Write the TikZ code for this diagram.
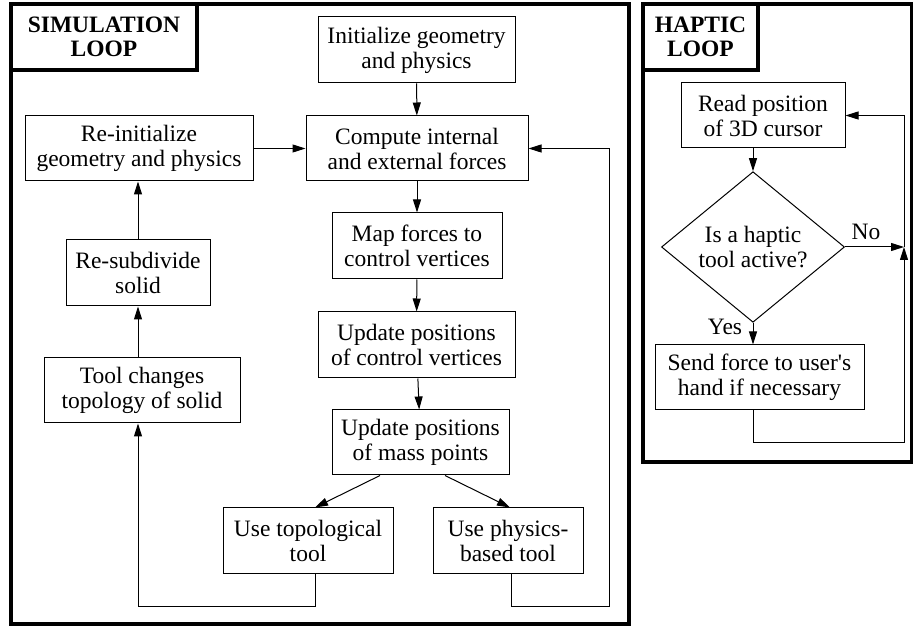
\documentclass[tikz,border=0pt]{standalone}
\usepackage{fontspec}
\setmainfont{Liberation Serif}
\usetikzlibrary{shapes.geometric,arrows.meta}
\begin{document}
\begin{tikzpicture}[x=1pt,y=-1pt,
  box/.style={draw,line width=1pt,align=center,inner sep=0pt,font=\fontsize{23.5}{25}\selectfont},
  arr/.style={-{Triangle[length=13pt,width=8pt]},line width=1pt},
  frame/.style={draw,line width=3.2pt},
  titlebox/.style={draw,line width=3.2pt,align=center,inner sep=0pt,font=\bfseries\fontsize{23.5}{24}\selectfont},
  lbl/.style={font=\fontsize{23.5}{25}\selectfont,inner sep=0pt}]
\useasboundingbox (0,0) rectangle (914,628);
% frames
\draw[frame] (11,4) rectangle (629,624);
\draw[frame] (643,4) rectangle (911.5,462);
\node[titlebox,minimum width=186pt,minimum height=66pt] (simtitle) at (104,37) {SIMULATION\\LOOP};
\node[titlebox,minimum width=115pt,minimum height=66pt] (haptitle) at (700.5,37) {HAPTIC\\LOOP};
% simulation nodes
\node[box,minimum width=197pt,minimum height=66pt] (init) at (416.5,50) {Initialize geometry\\and physics};
\node[box,minimum width=222pt,minimum height=65pt] (comp) at (417,148.5) {Compute internal\\and external forces};
\node[box,minimum width=228pt,minimum height=65pt] (reinit) at (139,148.5) {Re-initialize\\geometry and physics};
\node[box,minimum width=144pt,minimum height=66pt] (resub) at (138,273) {Re-subdivide\\solid};
\node[box,minimum width=196pt,minimum height=65pt] (topch) at (142,390.5) {Tool changes\\topology of solid};
\node[box,minimum width=170pt,minimum height=66pt] (map) at (417,246) {Map forces to\\control vertices};
\node[box,minimum width=197pt,minimum height=66pt] (updc) at (416.5,345) {Update positions\\of control vertices};
\node[box,minimum width=177pt,minimum height=65pt] (updm) at (420.5,442.5) {Update positions\\of mass points};
\node[box,minimum width=170pt,minimum height=65pt] (topo) at (308,540.5) {Use topological\\tool};
\node[box,minimum width=150pt,minimum height=65pt] (phys) at (508,540.5) {Use physics-\\based tool};
% simulation connectors
\draw[arr] (init) -- (comp);
\draw[arr] (comp) -- (map);
\draw[arr] (map) -- (updc);
\draw[arr] (updc) -- (updm);
\draw[arr] (reinit) -- (comp);
\draw[arr] (resub) -- (resub|-reinit.south);
\draw[arr] (topch.north-|resub) -- (resub);
\draw[arr] (updm.south-|380,0) -- (topo.north-|315,0);
\draw[arr] (updm.south-|445,0) -- (phys.north-|510,0);
\coordinate (tb) at (315,606);
\coordinate (tl) at (138,606);
\draw[arr] (topo.south-|tb) -- (tb) -- (tl) -- (tl|-topch.south);
\coordinate (pb) at (511,606);
\coordinate (pr) at (609,606);
\draw[arr] (phys.south-|pb) -- (pb) -- (pr) -- (pr|-comp.east) -- (comp.east);
% haptic nodes
\node[box,minimum width=164pt,minimum height=65pt] (read) at (763,115.5) {Read position\\of 3D cursor};
\node[box,diamond,minimum width=183pt,minimum height=130pt] (dec) at (753,247) {Is a haptic\\tool active?};
\node[box,minimum width=209pt,minimum height=65pt] (send) at (759.5,377.5) {Send force to user\textquotesingle s\\hand if necessary};
% haptic connectors
\draw[arr] (read.south-|dec) -- (dec.north);
\draw[arr] (dec.south) -- (send.north-|dec);
\coordinate (hb) at (753,443);
\coordinate (hr) at (904,443);
\coordinate (hj) at (904,247);
\draw[arr] (send.south-|hb) -- (hb) -- (hr) -- (hj);
\draw[arr] (hj) -- (hj|-read.east) -- (read.east);
\draw[arr] (dec.east) -- (hj);
\node[lbl] (no) at (866,232) {No};
\node[lbl] (yes) at (725,327) {Yes};
\end{tikzpicture}
\end{document}
